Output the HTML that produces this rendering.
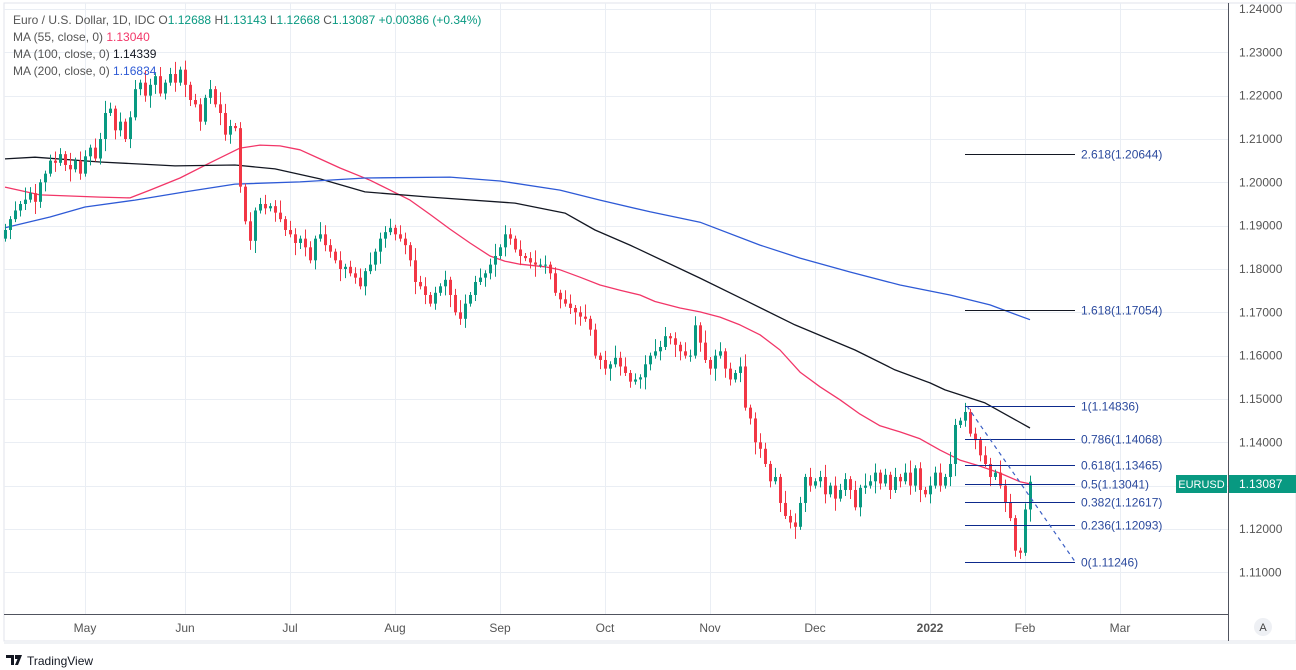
<!DOCTYPE html>
<html><head><meta charset="utf-8"><style>
html,body{margin:0;padding:0;background:#fff;width:1296px;height:670px;overflow:hidden;font-family:"Liberation Sans",sans-serif}
svg text{font-family:"Liberation Sans",sans-serif}
</style></head><body>
<svg id="chart" width="1296" height="670" xmlns="http://www.w3.org/2000/svg">
<rect x="0" y="0" width="1296" height="670" fill="#fff"/>
<rect x="4" y="3" width="1292" height="638" fill="none" stroke="#e0e3eb" stroke-width="1"/>
<g id="grid"></g>
<g id="ma"></g>
<g id="candles"></g>
<g id="fib"></g>
<line x1="1228.5" y1="3" x2="1228.5" y2="641" stroke="#50535e" stroke-width="1"/>
<line x1="4" y1="614.5" x2="1228" y2="614.5" stroke="#50535e" stroke-width="1"/>
<g id="yaxis"></g>
<g id="xaxis"></g>
<rect x="1176" y="475" width="51" height="18" fill="#089981"/>
<text x="1201.5" y="488" font-size="11" fill="#fff" text-anchor="middle">EURUSD</text>
<rect x="1229" y="475" width="67" height="18" fill="#089981"/>
<text x="1239" y="488" font-size="12" fill="#fff">1.13087</text>
<circle cx="1263" cy="627" r="9" fill="#eef0f4"/>
<text x="1263" y="631" font-size="11" fill="#444" text-anchor="middle">A</text>
<rect x="4" y="641" width="1292" height="3" fill="#f0f2f5"/>
<g font-size="12">
<text x="13" y="24" fill="#555"><tspan>Euro / U.S. Dollar, 1D, IDC  O</tspan><tspan fill="#089981">1.12688</tspan><tspan>  H</tspan><tspan fill="#089981">1.13143</tspan><tspan>  L</tspan><tspan fill="#089981">1.12668</tspan><tspan>  C</tspan><tspan fill="#089981">1.13087  +0.00386 (+0.34%)</tspan></text>
<text x="13" y="41" fill="#555">MA (55, close, 0)  <tspan fill="#f23668">1.13040</tspan></text>
<text x="13" y="58" fill="#555">MA (100, close, 0)  <tspan fill="#131722">1.14339</tspan></text>
<text x="13" y="75" fill="#555">MA (200, close, 0)  <tspan fill="#2e5ad6">1.16834</tspan></text>
</g>
<g>
<path d="M6 655h8v10h-3v-7h-5z M15 655h7l-4 10h-3l2.5-6H15z" fill="#131722"/>
<text x="27" y="665" font-size="12" fill="#131722">TradingView</text>
</g>
</svg>
<script>
const closes=[1.1890,1.1915,1.1935,1.1950,1.1960,1.1975,1.1955,1.2000,1.2020,1.2050,1.2045,1.2065,1.2040,1.2030,1.2050,1.2020,1.2060,1.2080,1.2055,1.2100,
1.2160,1.2170,1.2120,1.2140,1.2100,1.2150,1.2215,1.2230,1.2200,1.2225,1.2245,1.2205,1.2230,1.2250,1.2230,1.2260,1.2225,1.2190,1.2180,1.2140,
1.2195,1.2215,1.2180,1.2160,1.2110,1.2130,1.2125,1.1990,1.1910,1.1865,1.1935,1.1950,1.1940,1.1945,1.1930,1.1915,1.1890,1.1880,1.1860,1.1870,
1.1850,1.1820,1.1870,1.1880,1.1855,1.1840,1.1820,1.1800,1.1805,1.1790,1.1780,1.1760,1.1795,1.1810,1.1840,1.1870,1.1885,1.1895,1.1880,1.1870,
1.1855,1.1820,1.1770,1.1760,1.1740,1.1720,1.1745,1.1760,1.1775,1.1740,1.1700,1.1685,1.1720,1.1740,1.1770,1.1780,1.1790,1.1810,1.1830,1.1850,
1.1880,1.1870,1.1845,1.1830,1.1825,1.1815,1.1810,1.1810,1.1810,1.1790,1.1745,1.1730,1.1720,1.1710,1.1700,1.1690,1.1685,1.1660,1.1600,1.1590,
1.1570,1.1580,1.1595,1.1575,1.1560,1.1540,1.1545,1.1550,1.1580,1.1600,1.1610,1.1620,1.1645,1.1640,1.1625,1.1610,1.1600,1.1600,1.1670,1.1630,
1.1590,1.1570,1.1600,1.1610,1.1570,1.1545,1.1560,1.1575,1.1480,1.1455,1.1400,1.1385,1.1350,1.1310,1.1320,1.1260,1.1230,1.1215,1.1205,1.1260,
1.1320,1.1300,1.1310,1.1320,1.1280,1.1300,1.1270,1.1290,1.1315,1.1290,1.1250,1.1295,1.1300,1.1310,1.1330,1.1305,1.1325,1.1290,1.1320,1.1310,
1.1330,1.1300,1.1340,1.1290,1.1280,1.1300,1.1330,1.1300,1.1320,1.1350,1.1440,1.1450,1.1470,1.1420,1.1405,1.1370,1.1350,1.1320,1.1330,1.1300,
1.1260,1.1225,1.1150,1.1145,1.1245,1.1309];
const firstOpen=1.1870;
const wickUp="2131423112321413213242131231421312413122131432121312312413213214321312231412231321423121312431231241321312423121331241213142312131423121323141231213412321314232131241322131423121313412132314213121321423112";
const wickDn="1312214231312412131241321312243121314213121423121341213121423131221431213124312132413121341231213241321312413213124312132413121342131243121312413213124312131241321231412313214213121324131213412132131";
const wickUnit=0.0007;
const ma55=[[0,1.1989],[7,1.1971],[19,1.1966],[25,1.1964],[29,1.1982],[35,1.2010],[41,1.2045],[47,1.2079],[51,1.2086],[55,1.2084],[59,1.2075],[63,1.2054],[67,1.2033],[73,1.2005],[77,1.1982],[81,1.1959],[85,1.1926],[89,1.1892],[93,1.1860],[97,1.1830],[100,1.1818],[103,1.1811],[108,1.1805],[111,1.1798],[115,1.1781],[119,1.1763],[123,1.1751],[127,1.1740],[130,1.1725],[135,1.1710],[139,1.1701],[143,1.1689],[147,1.1671],[151,1.1648],[155,1.1613],[159,1.1562],[163,1.1528],[167,1.1498],[171,1.1465],[175,1.1438],[179,1.1424],[183,1.1408],[187,1.1382],[191,1.1359],[195,1.1345],[199,1.1329],[203,1.1309],[205,1.1304]];
const ma100=[[0,1.2054],[6,1.2058],[19,1.2047],[34,1.2038],[46,1.2040],[54,1.2031],[63,1.2008],[72,1.1978],[85,1.1966],[102,1.1952],[112,1.1929],[118,1.1890],[125,1.1855],[139,1.1779],[148,1.1728],[158,1.1671],[170,1.1613],[178,1.1567],[185,1.1537],[188,1.1521],[196,1.1491],[205,1.1433]];
const ma200=[[0,1.1895],[9,1.1920],[16,1.1943],[26,1.1959],[36,1.1978],[46,1.1996],[59,1.2001],[72,1.2010],[89,1.2012],[99,1.2003],[111,1.1982],[119,1.1959],[129,1.1932],[139,1.1908],[151,1.1855],[159,1.1825],[169,1.1793],[179,1.1763],[189,1.1740],[197,1.1717],[205,1.1683]];
const fibRatios=["2.618","1.618","1","0.786","0.618","0.5","0.382","0.236","0"];
const fibPrices=[1.20644,1.17054,1.14836,1.14068,1.13465,1.13041,1.12617,1.12093,1.11246];
const priceTicks=[1.24,1.23,1.22,1.21,1.20,1.19,1.18,1.17,1.16,1.15,1.14,1.13,1.12,1.11];
const monthLabels=["May","Jun","Jul","Aug","Sep","Oct","Nov","Dec","2022","Feb","Mar"];
const monthBars=[16,36,57,78,99,120,141,162,185,204,223];
const fibStartBar=192, fibEndBar=214;

const NS="http://www.w3.org/2000/svg";
const X=i=>5+i*5;
const Y=p=>9+(1.24-p)*4333;
function mk(tag,attrs,parent){const e=document.createElementNS(NS,tag);for(const k in attrs)e.setAttribute(k,attrs[k]);parent.appendChild(e);return e;}
const grid=document.getElementById('grid'),ya=document.getElementById('yaxis'),xa=document.getElementById('xaxis');
priceTicks.forEach(p=>{
  const l=mk('line',{x1:4,x2:1228,y1:Math.round(Y(p))+0.5,y2:Math.round(Y(p))+0.5,stroke:'#eaeef4'},grid);
  
  
  const t=mk('text',{x:1239,y:Y(p)+4,'font-size':12,fill:'#555'},ya);t.textContent=p.toFixed(5);
  
  
});
monthLabels.forEach((m,k)=>{
  const x=X(monthBars[k]);
  const l=mk('line',{x1:Math.round(x)+0.5,x2:Math.round(x)+0.5,y1:3,y2:614,stroke:'#eaeef4'},grid);
  
  
  const t=mk('text',{x:x,y:632,'font-size':12,fill:'#555','text-anchor':'middle','font-weight':m==='2022'?'bold':'normal'},xa);t.textContent=m;
  
  
});
const ma=document.getElementById('ma');
[[ma55,'#f23668'],[ma100,'#131722'],[ma200,'#2e5ad6']].forEach(([arr,c],k)=>{
  const d=arr.map((q,j)=>(j?'L':'M')+X(q[0]).toFixed(1)+' '+Y(q[1]).toFixed(1)).join(' ');
  const p=mk('path',{d:d,fill:'none',stroke:c,'stroke-width':1.3,'stroke-linejoin':'round'},ma);
  
  
});
const cg=document.getElementById('candles');
closes.forEach((c,i)=>{
  const o=i?closes[i-1]:firstOpen;
  const hi=Math.max(o,c)+(+wickUp[i%wickUp.length])*wickUnit;
  const lo=Math.min(o,c)-(+wickDn[i%wickDn.length])*wickUnit;
  const col=c>=o?'#089981':'#f23645';
  const x=X(i);
  const g=mk('g',{},cg);
  
  
  mk('line',{x1:x+0.5,x2:x+0.5,y1:Y(hi),y2:Y(lo),stroke:col,'stroke-width':1},g);
  const yt=Y(Math.max(o,c)),yb=Y(Math.min(o,c));
  mk('rect',{x:x-1,y:yt,width:3,height:Math.max(1,yb-yt),fill:col},g);
});
const fg=document.getElementById('fib');
const x1=X(fibStartBar),x2=X(fibEndBar);
fibPrices.forEach((p,k)=>{
  const y=Math.round(Y(p))+0.5;
  const l=mk('line',{x1:x1,x2:x2,y1:y,y2:y,stroke:k<2?'#131722':'#0d2a8c','stroke-width':1},fg);
  
  
  const t=mk('text',{x:x2+6,y:y+4,'font-size':12,fill:'#2b4a9e'},fg);t.textContent=fibRatios[k]+'('+p.toFixed(5)+')';
  
  
});
const tl=mk('line',{x1:x1+2,y1:Y(fibPrices[2]),x2:x2,y2:Y(fibPrices[8]),stroke:'#3b5fc4','stroke-width':1.2,'stroke-dasharray':'4 4'},fg);


</script>
</body></html>
